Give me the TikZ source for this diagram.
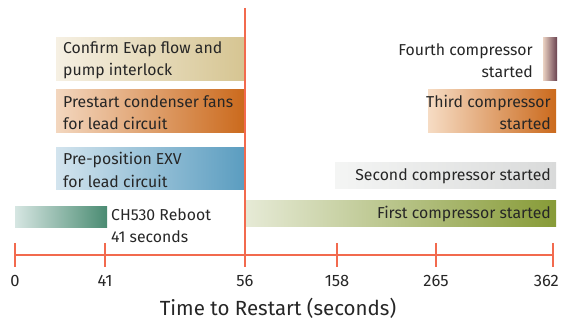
\documentclass[tikz,border=0pt]{standalone}
\usepackage{fontspec}
\setmainfont{Fira Sans}
\definecolor{confL}{HTML}{F6F0E3}
\definecolor{confR}{HTML}{D6C592}
\definecolor{preL}{HTML}{F3D7BF}
\definecolor{preR}{HTML}{CB6A1D}
\definecolor{exvL}{HTML}{D3E4EE}
\definecolor{exvR}{HTML}{5B9DC0}
\definecolor{fourL}{HTML}{EBD3C3}
\definecolor{fourR}{HTML}{6B4351}
\definecolor{thirdL}{HTML}{F6DCC4}
\definecolor{thirdR}{HTML}{CB6A1D}
\definecolor{secL}{HTML}{F4F5F4}
\definecolor{secR}{HTML}{D9DADA}
\definecolor{firstL}{HTML}{E6EAD6}
\definecolor{firstR}{HTML}{879B37}
\definecolor{chL}{HTML}{D6E6E2}
\definecolor{chR}{HTML}{4A8B72}
\definecolor{axisred}{HTML}{F26A4E}
\definecolor{txt}{HTML}{262626}
\begin{document}
\begin{tikzpicture}[x=1pt,y=-1pt,
  lbl/.style={font=\fontsize{15.8}{22.5}\selectfont, text=txt, inner sep=0pt},
  axisline/.style={draw=axisred, line width=2.2pt},
  tick/.style={draw=axisred, line width=2.2pt},
  num/.style={font=\fontsize{16.5}{19}\selectfont, text=txt, inner sep=0pt},
]
\useasboundingbox (0,0) rectangle (563,320);

% bars
\shade[left color=confL, right color=confR] (56,38) rectangle (244,81);
\shade[left color=preL, right color=preR] (56,90) rectangle (244,133);
\shade[left color=exvL, right color=exvR] (56,148) rectangle (244,190);
\shade[left color=fourL, right color=fourR] (543,38) rectangle (557,81);
\shade[left color=thirdL, right color=thirdR] (428,90) rectangle (556,133);
\shade[left color=secL, right color=secR] (335,163) rectangle (556,189);
\shade[left color=firstL, right color=firstR] (246,201) rectangle (556,227);
\shade[left color=chL, right color=chR] (15,207) rectangle (107,228);

% labels
\node[lbl, anchor=west, align=left] (conf) at (63,60.5) {Confirm Evap flow and\\pump interlock};
\node[lbl, anchor=west, align=left] (pre) at (63,112.5) {Prestart condenser fans\\for lead circuit};
\node[lbl, anchor=west, align=left] (exv) at (63,170) {Pre-position EXV\\for lead circuit};
\node[lbl, anchor=east, align=right] (four) at (533,60.5) {Fourth compressor\\started};
\node[lbl, anchor=east, align=right] (third) at (551,112.5) {Third compressor\\started};
\node[lbl, anchor=east] (sec) at (551,176) {Second compressor started};
\node[lbl, anchor=east] (first) at (551,214) {First compressor started};
\node[lbl, anchor=west, align=left] (ch) at (111,225.5) {CH530 Reboot\\41 seconds};

% axis
\coordinate (top) at (245,8);
\coordinate (a0) at (15,255);
\coordinate (a362) at (553,255);
\draw[axisline] (a0) -- (a362);
\draw[tick] (top) -- (245,267);
\foreach \x/\n in {15/0,105/41,245/56,337/158,436/265}{
  \draw[tick] (\x,243) -- (\x,267);
  \node[num] (n\n) at (\x,281) {\n};
}
\draw[tick] (553,243) -- (553,267);
\node[num, anchor=east] (n362) at (559,281) {362};
\node[font=\fontsize{20.5}{24}\selectfont, text=txt, inner sep=0pt] (title) at (278,308) {Time to Restart (seconds)};
\end{tikzpicture}
\end{document}
